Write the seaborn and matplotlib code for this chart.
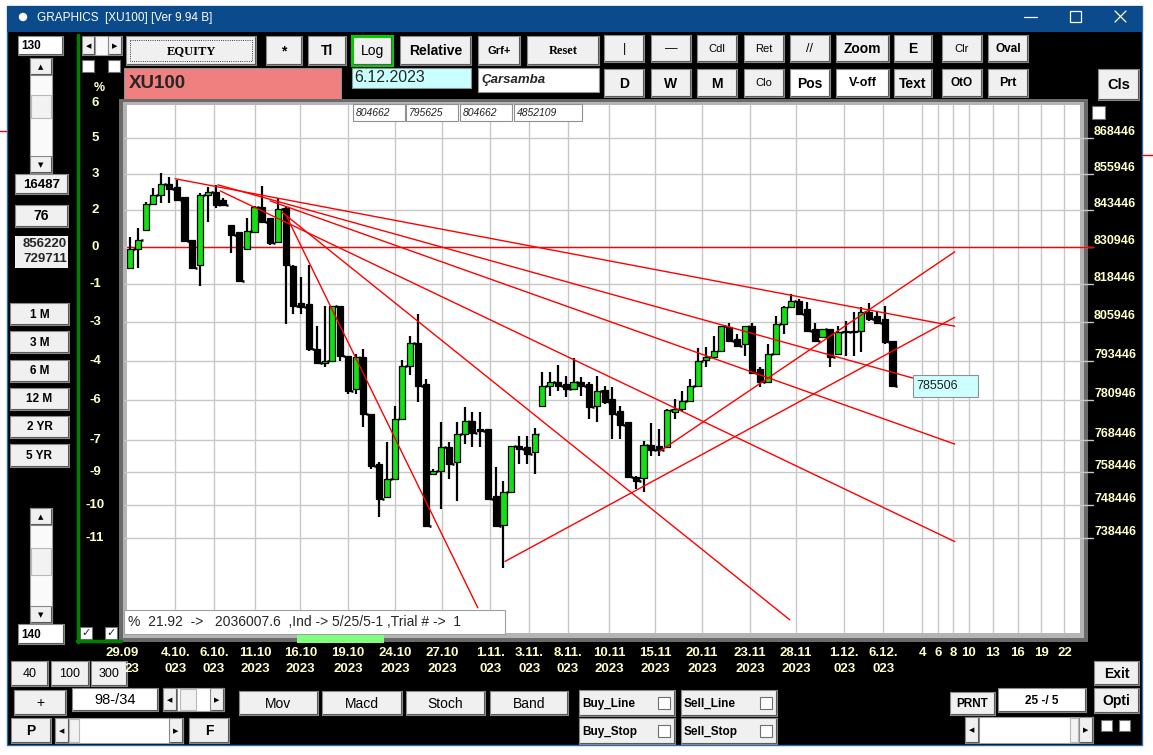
import numpy as np
import pandas as pd
import seaborn as sns
import matplotlib.pyplot as plt
from matplotlib.patches import Rectangle, Circle
from matplotlib.transforms import blended_transform_factory

sns.set_style("white")
plt.rcParams['font.family'] = ['Liberation Sans', 'DejaVu Sans']

# =============================================================================
# XU100 bars (two sessions a day, 29.09.2023 - 6.12.2023), prices in thousands
# =============================================================================
opens = [824.0, 830.3, 836.7, 845.5, 848.7, 852.5, 851.4, 848.0, 833.3, 825.0,
         848.7, 849.7, 846.9, 838.4, 836.0, 830.3, 836.0, 844.5, 840.8, 832.6,
         844.1, 824.4, 812.2, 811.9, 797.3, 792.8, 793.4, 811.2, 795.1, 784.5,
         794.7, 776.6, 761.0, 750.9, 756.3, 775.0, 791.9, 799.2, 786.1, 758.1,
         758.8, 766.3, 761.6, 770.3, 774.4, 771.9, 771.9, 751.2, 742.4, 752.4,
         766.6, 766.3, 764.7, 779.1, 785.4, 786.7, 786.1, 784.5, 786.7, 786.1,
         779.1, 784.2, 781.3, 777.5, 774.1, 756.9, 756.6, 766.9, 766.6, 766.3,
         777.2, 778.1, 780.6, 785.4, 793.8, 794.7, 796.7, 804.3, 800.5, 798.9,
         804.7, 790.9, 786.7, 795.7, 805.3, 810.9, 812.9, 810.2, 803.7, 801.1,
         803.7, 795.7, 803.1, 802.7, 803.1, 809.2, 807.9, 806.9, 799.9]
closes = [830.3, 833.3, 845.5, 848.7, 852.5, 850.7, 846.9, 833.0, 824.0, 848.7,
          849.7, 845.2, 845.2, 835.0, 819.4, 836.4, 844.5, 839.4, 832.3, 843.8,
          825.0, 811.2, 810.9, 797.3, 792.8, 793.4, 811.2, 795.1, 783.8, 794.7,
          776.6, 760.3, 750.3, 756.3, 775.0, 791.9, 799.2, 785.4, 742.1, 758.8,
          766.3, 761.0, 770.3, 774.4, 770.6, 771.3, 750.3, 742.1, 752.4, 766.6,
          765.6, 764.1, 770.3, 785.4, 786.7, 785.4, 784.5, 786.7, 785.4, 778.8,
          783.8, 780.3, 776.6, 773.1, 756.9, 755.7, 766.9, 765.3, 765.3, 777.8,
          778.1, 780.6, 785.4, 793.4, 794.7, 796.7, 804.7, 799.9, 798.3, 804.7,
          789.6, 786.7, 795.7, 805.3, 810.9, 812.9, 808.6, 803.1, 799.9, 803.7,
          794.7, 802.7, 802.7, 803.1, 809.2, 806.9, 805.9, 799.5, 785.5]
highs = [834.3, 837.4, 846.2, 851.1, 856.2, 854.9, 853.9, 848.0, 833.3, 849.3,
         851.4, 852.1, 847.6, 838.4, 836.0, 840.8, 844.8, 851.8, 840.8, 847.6,
         844.5, 825.0, 820.8, 825.0, 804.7, 811.2, 811.2, 811.2, 795.1, 795.7,
         797.3, 776.6, 761.6, 767.8, 779.1, 793.8, 801.5, 808.6, 787.7, 759.4,
         774.1, 767.8, 774.1, 778.8, 777.2, 777.2, 771.9, 760.0, 755.7, 766.6,
         769.7, 769.7, 772.2, 789.9, 789.9, 792.2, 788.6, 794.4, 788.3, 786.7,
         788.6, 785.4, 785.1, 779.1, 774.1, 757.2, 768.1, 773.8, 771.9, 778.1,
         781.3, 783.8, 787.7, 797.6, 797.9, 801.5, 804.7, 805.9, 802.1, 804.7,
         805.9, 791.5, 798.9, 807.9, 811.2, 815.2, 813.5, 812.5, 805.9, 803.7,
         803.7, 804.7, 806.3, 809.2, 810.9, 812.2, 809.2, 811.2, 799.9]
lows = [824.0, 824.0, 836.7, 845.5, 845.9, 845.9, 846.9, 833.0, 823.4, 817.8,
        839.4, 844.1, 844.8, 829.0, 819.1, 830.3, 836.0, 839.4, 831.6, 832.6,
        805.3, 808.6, 808.6, 796.7, 792.5, 791.5, 793.4, 793.4, 782.9, 782.9,
        772.5, 759.4, 744.8, 750.9, 756.3, 775.0, 789.0, 780.3, 742.1, 757.8,
        747.2, 756.3, 749.7, 767.2, 766.3, 766.3, 750.3, 742.1, 729.7, 752.4,
        761.0, 761.0, 758.1, 779.1, 782.2, 783.8, 781.9, 784.5, 782.2, 775.0,
        774.1, 779.7, 768.8, 768.8, 756.9, 753.3, 752.4, 763.5, 763.5, 766.3,
        775.0, 777.5, 780.3, 785.4, 791.5, 794.1, 796.7, 799.9, 798.3, 795.1,
        789.6, 785.1, 786.7, 795.7, 802.1, 810.9, 808.6, 803.1, 799.5, 801.1,
        791.5, 795.7, 795.1, 795.1, 796.3, 806.3, 805.3, 798.9, 785.5]

base_price = 830946          # 0 % line
last_price = 785506
grid_prices = [868446, 855946, 843446, 830946, 818446, 805946, 793446,
               780946, 768446, 758446, 748446, 738446]
pct_labels = ['5', '3', '2', '0', '-1', '-3', '-4', '-6', '-7', '-9', '-10', '-11']
top_pct_price = 880946       # "6" label, just above the frame

date_pos = [-1.0, 5.8, 10.8, 16.1, 21.9, 28.0, 34.1, 40.1, 46.3, 51.3, 56.3,
            61.6, 67.5, 73.5, 79.7, 85.6, 91.8, 96.8]
date_top = ['29.09', '4.10.', '6.10.', '11.10', '16.10', '19.10', '24.10', '27.10',
            '1.11.', '3.11.', '8.11.', '10.11', '15.11', '20.11', '23.11', '28.11',
            '1.12.', '6.12.']
# second line: the first one is cut by the "300" button, only "23" shows
date_bottom_pos = [0.2] + date_pos[1:]
date_bottom = ['23', '023', '023', '2023', '2023', '2023', '2023', '2023',
               '023', '023', '023', '2023', '2023', '2023', '2023', '2023',
               '023', '023']
future_pos = [101.8, 103.9, 105.8, 107.8, 110.9, 114.1, 117.1, 120.1]
future_days = ['4', '6', '8', '10', '13', '16', '19', '22']

# hand drawn trend lines: start bar, start price, end bar, end price (thousands)
tl_x0 = [5.8, 11.3, 18.0, 11.6, 19.5, 20.1, 68.1, 48.2]
tl_p0 = [854.2, 852.1, 846.6, 850.0, 842.8, 841.4, 765.0, 731.6]
tl_x1 = [106.0, 100.6, 106.0, 106.0, 84.8, 44.7, 106.0, 106.0]
tl_p1 = [804.7, 788.0, 767.2, 737.5, 714.5, 718.0, 829.3, 807.6]

top_boxes = ['804662', '795625', '804662', '4852109']
status_text = '%  21.92  ->   2036007.6  ,Ind -> 5/25/5-1 ,Trial # ->  1'

YEL = '#ffffc8'
W, H = 1153, 755


def px_rect(x0, y0, x1, y1):
    return [x0 / W, 1 - y1 / H, (x1 - x0) / W, (y1 - y0) / H]


def button(a, x0, y0, x1, y1, text='', size=9, weight='bold', face='#f0f0f0',
           family=None, style='normal', ha='center', tx=None, color='black',
           edge='#8a8a8a'):
    a.add_patch(Rectangle((x0, y0), x1 - x0, y1 - y0, facecolor=face,
                          edgecolor=edge, lw=0.8))
    a.plot([x0 + 1, x1 - 1, x1 - 1], [y1 - 1, y1 - 1, y0 + 1], color='#5a5a5a', lw=0.8)
    if text:
        kw = dict(fontsize=size, fontweight=weight, fontstyle=style, color=color,
                  va='center', ha=ha)
        if family:
            kw['family'] = family
        a.text(tx if tx is not None else (x0 + x1) / 2, (y0 + y1) / 2 + 0.5, text, **kw)


def checkbox(a, x, y, s=12, checked=False):
    a.add_patch(Rectangle((x, y), s, s, facecolor='white', edgecolor='#707070', lw=0.8))
    if checked:
        a.text(x + s / 2, y + s / 2, '✓', ha='center', va='center', fontsize=8,
               fontweight='bold', family=['DejaVu Sans'])


def vscroll(a, x0, y0, x1, y1, t0, t1):
    a.add_patch(Rectangle((x0, y0), x1 - x0, y1 - y0, facecolor='#fafafa',
                          edgecolor='#a0a0a0', lw=0.8))
    button(a, x0, y0, x1, y0 + 17, '▲', size=5, weight='normal', family=['DejaVu Sans'])
    button(a, x0, y1 - 17, x1, y1, '▼', size=5, weight='normal', family=['DejaVu Sans'])
    a.add_patch(Rectangle((x0 + 1, t0), x1 - x0 - 2, t1 - t0, facecolor='#f2f2f2',
                          edgecolor='#b8b8b8', lw=0.8))


def hscroll(a, x0, y0, x1, y1, t0, t1):
    a.add_patch(Rectangle((x0, y0), x1 - x0, y1 - y0, facecolor='white',
                          edgecolor='#a0a0a0', lw=0.8))
    button(a, x0, y0, x0 + 14, y1, '◀', size=5, weight='normal', family=['DejaVu Sans'])
    button(a, x1 - 14, y0, x1, y1, '▶', size=5, weight='normal', family=['DejaVu Sans'])
    a.add_patch(Rectangle((t0, y0 + 1), t1 - t0, y1 - y0 - 2, facecolor='#f2f2f2',
                          edgecolor='#b8b8b8', lw=0.8))


fig = plt.figure(figsize=(W / 100, H / 100), dpi=100)
fig.patch.set_facecolor('white')

bg = fig.add_axes([0, 0, 1, 1], label='bg')
bg.set_xlim(0, W); bg.set_ylim(H, 0); bg.axis('off'); bg.set_zorder(0)

# ---- window frame / title bar ----
bg.add_patch(Rectangle((0, 0), W, H, facecolor='white', edgecolor='none'))
bg.plot([1143, W], [155, 155], color='red', lw=1)
bg.plot([0, 6], [131, 131], color='red', lw=1)
bg.add_patch(Rectangle((7, 6), 1135, 739, facecolor='black', edgecolor='#2b6cb0', lw=1))
bg.add_patch(Rectangle((7, 6), 1135, 26, facecolor='#0b4a8b', edgecolor='none'))
bg.add_patch(Circle((23, 17), 3.5, color='white'))
bg.text(37, 18, 'GRAPHICS  [XU100] [Ver 9.94 B]', color='white', fontsize=8.5, va='center')
bg.plot([1024, 1037], [17, 17], color='white', lw=0.9)
bg.add_patch(Rectangle((1070, 11), 11, 11, fill=False, edgecolor='white', lw=0.9))
bg.plot([1115, 1126], [11, 22], color='white', lw=0.9)
bg.plot([1115, 1126], [22, 11], color='white', lw=0.9)

# ---- top rows of buttons ----
button(bg, 18, 36, 63, 55, '130', size=8.5, face='white', ha='left', tx=21)
button(bg, 82, 36, 95, 55, '◀', size=5, weight='normal', family=['DejaVu Sans'])
bg.add_patch(Rectangle((95, 36), 13, 19, facecolor='#fafafa', edgecolor='#a0a0a0', lw=0.8))
button(bg, 108, 36, 122, 55, '▶', size=5, weight='normal', family=['DejaVu Sans'])
checkbox(bg, 82, 60)
checkbox(bg, 108, 60)

button(bg, 126, 36, 256, 65, 'EQUITY', size=9, family=['Liberation Serif'])
bg.add_patch(Rectangle((130, 40), 122, 21, fill=False, edgecolor='black', lw=0.6, ls=':'))
button(bg, 266, 36, 302, 65, '*', size=10)
button(bg, 308, 36, 346, 65, 'Tl', size=10)
button(bg, 352, 36, 392, 65, 'Log', size=10, weight='normal', edge='#00cc00')
bg.add_patch(Rectangle((352, 36), 40, 29, fill=False, edgecolor='#00cc00', lw=2.2))
button(bg, 400, 36, 471, 65, 'Relative', size=10)
button(bg, 478, 36, 520, 65, 'Grf+', size=8)
button(bg, 527, 36, 599, 65, 'Reset', size=9, family=['Liberation Serif'])

row1 = [(604, 644, '|', 9, 'normal'), (651, 691, '—', 9, 'normal'),
        (697, 737, 'Cdl', 8, 'normal'), (744, 784, 'Ret', 8, 'normal'),
        (790, 830, '//', 9, 'normal'), (836, 889, 'Zoom', 10, 'bold'),
        (894, 932, 'E', 10, 'bold'), (942, 982, 'Clr', 8, 'normal'),
        (988, 1028, 'Oval', 8.5, 'bold')]
for x0, x1, t, s, w in row1:
    button(bg, x0, 35, x1, 62, t, size=s, weight=w)
row2 = [(604, 644, 'D', 10, 'bold', '#f0f0f0'), (651, 691, 'W', 10, 'bold', '#f0f0f0'),
        (697, 737, 'M', 10, 'bold', '#f0f0f0'), (744, 784, 'Clo', 8, 'normal', '#f0f0f0'),
        (790, 830, 'Pos', 10, 'bold', 'white'), (836, 889, 'V-off', 9, 'bold', 'white'),
        (894, 932, 'Text', 10, 'bold', '#f0f0f0'), (942, 982, 'OtO', 8.5, 'bold', '#f0f0f0'),
        (988, 1028, 'Prt', 9, 'bold', '#f0f0f0')]
for x0, x1, t, s, w, f in row2:
    button(bg, x0, 69, x1, 97, t, size=s, weight=w, face=f)
button(bg, 1098, 69, 1139, 100, 'Cls', size=10.5)

bg.add_patch(Rectangle((124, 68), 217, 32, facecolor='#f08080', edgecolor='#909090', lw=0.8))
bg.text(129, 83, 'XU100', fontsize=13.5, fontweight='bold', va='center')
bg.add_patch(Rectangle((352, 68), 119, 20, facecolor='#c8ffff', edgecolor='#909090', lw=0.8))
bg.text(354, 78, '6.12.2023', fontsize=11.5, va='center')
bg.add_patch(Rectangle((478, 68), 121, 24, facecolor='white', edgecolor='#909090', lw=0.8))
bg.text(481, 80, 'Çarsamba', fontsize=9.5, fontweight='bold', fontstyle='italic', va='center')

# ---- left panel ----
bg.plot([78, 78], [35, 642], color='#008000', lw=2.5)
bg.plot([77, 121], [641, 641], color='#008000', lw=2.5)
vscroll(bg, 30, 58, 52, 173, 95, 118)
button(bg, 15, 174, 68, 194, '16487', size=9.5)
button(bg, 15, 205, 68, 227, '76', size=10)
bg.add_patch(Rectangle((15, 236), 53, 32, facecolor='#f0f0f0', edgecolor='none'))
bg.text(67, 244, '856220', ha='right', va='center', fontsize=9.5, fontweight='bold')
bg.text(67, 259, '729711', ha='right', va='center', fontsize=9.5, fontweight='bold')
for (y0, y1), t in zip([(303, 325), (331, 353), (360, 382), (388, 410), (416, 438), (444, 467)],
                       ['1 M', '3 M', '6 M', '12 M', '2 YR', '5 YR']):
    button(bg, 10, y0, 69, y1, t, size=8.5)
vscroll(bg, 30, 508, 52, 623, 548, 575)
button(bg, 18, 624, 64, 644, '140', size=8.5, face='white', ha='left', tx=21)
checkbox(bg, 80, 627, 12, True)
checkbox(bg, 105, 627, 12, True)
bg.text(99, 88, '%', color=YEL, fontsize=9, fontweight='bold', ha='center', va='center')

# chart bevel
bg.add_patch(Rectangle((119, 99), 969, 543, facecolor='#6a6a6a', edgecolor='none'))
bg.add_patch(Rectangle((123, 102), 961, 536, facecolor='#b4b4b4', edgecolor='none'))
bg.add_patch(Rectangle((297, 633), 87, 10, facecolor='#80ff80', edgecolor='none'))
checkbox(bg, 1092, 106, 13)

# ---- bottom panel ----
button(bg, 11, 661, 48, 686, '40', size=9, weight='normal')
button(bg, 51, 661, 89, 686, '100', size=9, weight='normal')
button(bg, 91, 661, 127, 686, '300', size=9, weight='normal')
button(bg, 14, 690, 66, 715, '+', size=10, weight='normal')
button(bg, 72, 688, 158, 711, '98-/34', size=10.5, weight='normal', face='white')
hscroll(bg, 163, 688, 224, 711, 180, 196)
button(bg, 11, 718, 51, 743, 'P', size=10)
hscroll(bg, 55, 718, 183, 743, 69, 79)
button(bg, 189, 718, 229, 743, 'F', size=10)
for x0, x1, t in [(239, 318, 'Mov'), (322, 402, 'Macd'), (406, 485, 'Stoch'), (490, 568, 'Band')]:
    button(bg, x0, 691, x1, 715, t, size=10, weight='normal')
for x0, y0, t in [(579, 690, 'Buy_Line'), (681, 690, 'Sell_Line'),
                  (579, 718, 'Buy_Stop'), (681, 718, 'Sell_Stop')]:
    button(bg, x0, y0, x0 + 96, y0 + 26, t, size=8.5, ha='left', tx=x0 + 3)
    checkbox(bg, x0 + 79, y0 + 7, 12)
button(bg, 950, 692, 995, 715, 'PRNT', size=8.5)
button(bg, 998, 688, 1086, 712, '25 -/ 5', size=8.5, face='white')
hscroll(bg, 965, 717, 1093, 743, 1070, 1078)
button(bg, 1094, 661, 1139, 685, 'Exit', size=10)
button(bg, 1094, 688, 1139, 713, 'Opti', size=10)
checkbox(bg, 1101, 720, 11)
checkbox(bg, 1119, 720, 11)

# ---- price chart ----
ax = fig.add_axes(px_rect(127, 105, 1080, 633), label='chart')
ax.set_zorder(1)
ax.set_facecolor('white')
ax.set_yscale('log')

o = np.array(opens) * 1000
c = np.array(closes) * 1000
h = np.array(highs) * 1000
l = np.array(lows) * 1000
idx = np.arange(len(o))
up = c >= o

x_lo, x_hi = -0.39, 122.1
y_lo, y_hi = 710700, 880100

for p in grid_prices:
    ax.axhline(p, color='#c8c8c8', lw=1, zorder=1)
    ax.plot([x_hi, 123.8], [p, p], color='#c8c8c8', lw=1, clip_on=False, zorder=1)
    ax.plot([-0.8, x_lo], [p, p], color='#c8c8c8', lw=1, clip_on=False, zorder=1)
for xp in date_pos[1:] + future_pos:
    ax.axvline(xp, color='#c8c8c8', lw=1, zorder=1)
ax.plot([x_lo, 123.8], [base_price, base_price], color='#ff0000', lw=1,
        clip_on=False, zorder=2)

ax.vlines(idx, l, h, color='black', lw=1.6, zorder=3)
ax.bar(idx, np.abs(c - o), bottom=np.minimum(o, c), width=0.78,
       color=np.where(up, '#12e012', 'black'), edgecolor='black', linewidth=0.9, zorder=4)
ax.hlines(c, idx + 0.38, idx + 0.62, color='black', lw=1.8, zorder=4)

tl = pd.DataFrame({
    'bar': np.ravel(np.column_stack([tl_x0, tl_x1])),
    'price': np.ravel(np.column_stack([tl_p0, tl_p1])) * 1000,
    'line': np.repeat(np.arange(len(tl_x0)), 2),
})
sns.lineplot(data=tl, x='bar', y='price', units='line', estimator=None, sort=False,
             color='#ff0000', linewidth=1, legend=False, ax=ax, zorder=5)

ax.set_xlim(x_lo, x_hi)
ax.set_ylim(y_lo, y_hi)
ax.set(xlabel='', ylabel='')
ax.tick_params(which='both', left=False, bottom=False, right=False, top=False,
               labelleft=False, labelbottom=False)
ax.yaxis.set_minor_locator(plt.NullLocator())
for s in ax.spines.values():
    s.set_visible(False)

ty = blended_transform_factory(ax.transAxes, ax.transData)
tx = blended_transform_factory(ax.transData, ax.transAxes)
for p, lab in zip(grid_prices, pct_labels):
    ax.text(1.0147, p, str(p), transform=ty, ha='left', va='bottom', color=YEL,
            fontsize=9, fontweight='bold', clip_on=False)
    ax.text(-0.0336, p, lab, transform=ty, ha='center', va='center', color=YEL,
            fontsize=9.5, fontweight='bold', clip_on=False)
ax.text(-0.0336, top_pct_price, '6', transform=ty, ha='center', va='center', color=YEL,
        fontsize=9.5, fontweight='bold', clip_on=False)
for xp, t1 in zip(date_pos, date_top):
    ax.text(xp, -0.0379, t1, transform=tx, ha='center', va='center', color=YEL,
            fontsize=9.5, fontweight='bold', clip_on=False)
for xp, t2 in zip(date_bottom_pos, date_bottom):
    ax.text(xp, -0.0682, t2, transform=tx, ha='center', va='center', color=YEL,
            fontsize=9.5, fontweight='bold', clip_on=False)
for xp, t1 in zip(future_pos, future_days):
    ax.text(xp, -0.0379, t1, transform=tx, ha='center', va='center', color=YEL,
            fontsize=9.5, fontweight='bold', clip_on=False)

# ---- boxes drawn over the chart ----
fg = fig.add_axes([0, 0, 1, 1], label='fg')
fg.set_xlim(0, W); fg.set_ylim(H, 0); fg.axis('off'); fg.set_zorder(2)
for (x0, x1), t in zip([(353, 405), (406, 458), (460, 512), (514, 582)], top_boxes):
    fg.add_patch(Rectangle((x0, 104), x1 - x0, 17, facecolor='white', edgecolor='#909090', lw=0.8))
    fg.text(x0 + 3, 113, t, fontsize=7.5, fontstyle='italic', va='center')
fg.add_patch(Rectangle((124, 610), 381, 24, facecolor='white', edgecolor='#a0a0a0', lw=0.8))
fg.text(128, 622, status_text, fontsize=10, va='center')
fg.add_patch(Rectangle((913, 375), 65, 22, facecolor='#ccffff', edgecolor='#909090', lw=0.8))
fg.text(916, 386, str(last_price), fontsize=9, color='#202020', va='center')

fig.savefig('out.png', dpi=100, facecolor=fig.get_facecolor())
